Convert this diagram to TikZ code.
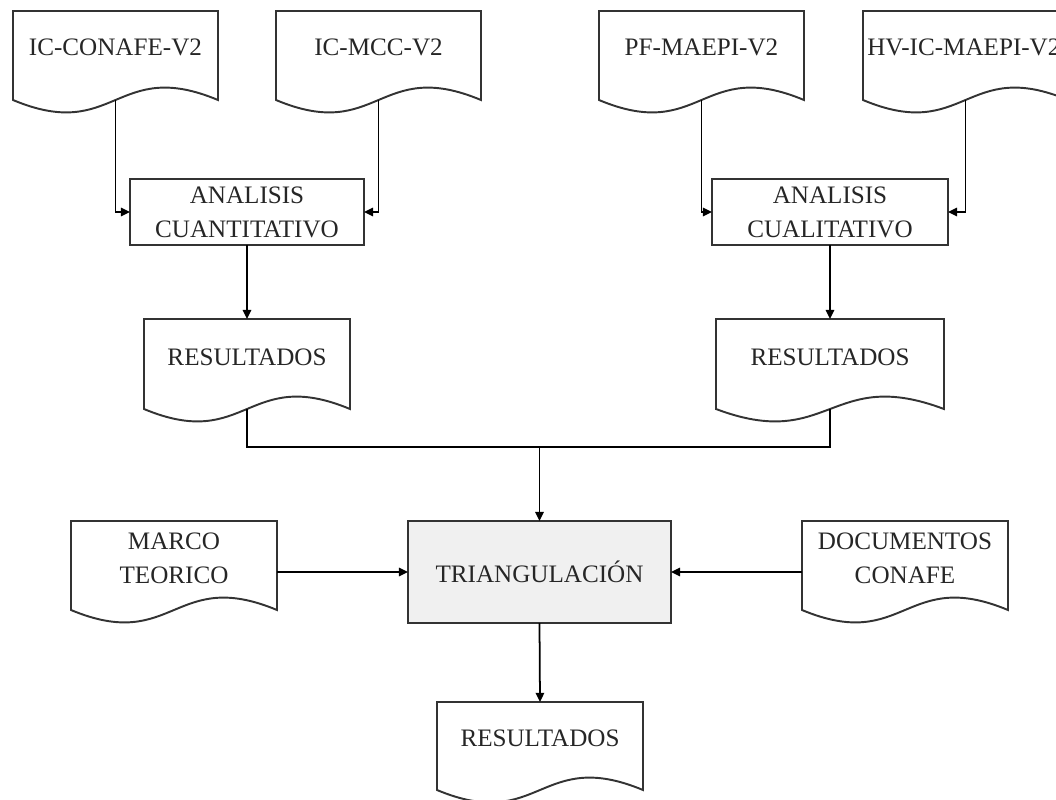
\documentclass[tikz,border=0pt]{standalone}
\usepackage{fontspec}
\setmainfont{Liberation Serif}
\usetikzlibrary{arrows.meta}
\tikzset{
  shapeline/.style={draw=black!80, line width=1.1pt},
  conn/.style={draw=black, line width=1pt},
  arr/.style={conn, -{Triangle[length=5.2pt,width=4.8pt]}},
  txt/.style={font=\fontsize{14.3}{19.5}\selectfont, text=black!85, align=center, inner sep=0pt},
  ghost/.style={inner sep=0pt, outer sep=0pt, draw=none},
  procbox/.style={shapeline, inner sep=0pt, outer sep=0pt},
}
\newcommand{\docshape}[5]{% name, left, top, width, height (pixels)
  \node[ghost, minimum width={#4*0.02cm}, minimum height={#5*0.02cm}] (#1) at ({#2+#4/2},{#3+#5/2}) {};
  \draw[shapeline] (#1.north west) -- (#1.north east) -- (#1.south east)
    .. controls +({-#4/2},-43) and +({#4/2},43) .. (#1.south west) -- cycle;
}
\begin{document}
\begin{tikzpicture}[x=0.02cm,y=-0.02cm]
\useasboundingbox (0,0) rectangle (1056,799);

% top documents
\docshape{d1}{13}{11}{205}{89}
\node[txt] (d1t) at (115.5,47) {IC-CONAFE-V2};
\docshape{d2}{276}{11}{205}{89}
\node[txt] (d2t) at (378.5,47) {IC-MCC-V2};
\docshape{d3}{599}{11}{205}{89}
\node[txt] (d3t) at (701.5,47) {PF-MAEPI-V2};
\docshape{d4}{863}{11}{205}{89}
\node[txt, anchor=west] (d4t) at (867,47) {HV-IC-MAEPI-V2};

% analysis boxes
\node[procbox, txt, minimum width={234*0.02cm}, minimum height={66*0.02cm}] (a1) at (247,212) {ANALISIS\\CUANTITATIVO};
\node[procbox, txt, minimum width={236*0.02cm}, minimum height={66*0.02cm}] (a2) at (830,212) {ANALISIS\\CUALITATIVO};

% results
\docshape{r1}{144}{319}{206}{90}
\node[txt] (r1t) at (247,357) {RESULTADOS};
\docshape{r2}{716}{319}{228}{90}
\node[txt] (r2t) at (830,357) {RESULTADOS};

% triangulation row
\node[procbox, txt, fill=black!6, minimum width={263*0.02cm}, minimum height={102*0.02cm}] (t) at (539.5,572) {TRIANGULACIÓN};
\docshape{m}{71}{521}{206}{89}
\node[txt] (mt) at (174,558.5) {MARCO\\TEORICO};
\docshape{dc}{802}{521}{206}{89}
\node[txt] (dct) at (905,558.5) {DOCUMENTOS\\CONAFE};

% final result
\docshape{r3}{437}{702}{206}{88}
\node[txt] (r3t) at (540,738) {RESULTADOS};

\coordinate (j) at (539.5,447);

% connectors
\draw[arr] (d1.south) |- (a1.west);
\draw[arr] (d2.south) |- (a1.east);
\draw[arr] (d3.south) |- (a2.west);
\draw[arr] (d4.south) |- (a2.east);
\draw[arr] (a1.south) -- (r1.north);
\draw[arr] (a2.south) -- (r2.north);
\draw[conn] (r1.south) -- (r1.south |- j) -- (r2.south |- j) -- (r2.south);
\draw[arr] (j) -- (t.north);
\draw[arr] (m.east |- t.west) -- (t.west);
\draw[arr] (dc.west |- t.east) -- (t.east);
\draw[arr] (t.south) -- (r3.north);
\end{tikzpicture}
\end{document}
